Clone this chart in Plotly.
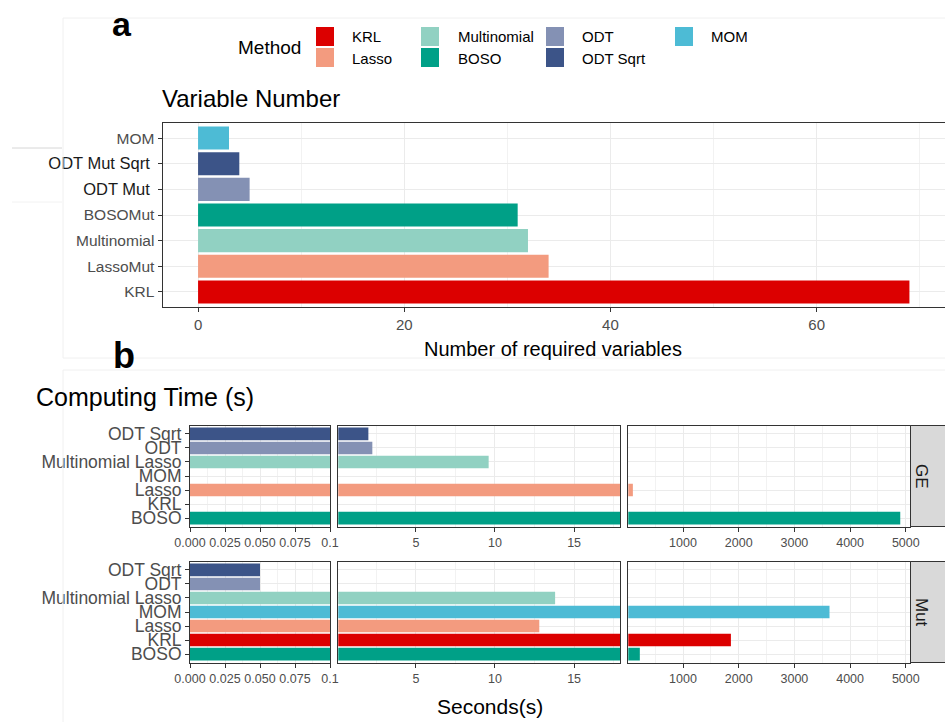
import plotly.graph_objects as go

# ---------------- data ----------------
# Panel a: number of variables each method needs
var_methods = ["KRL", "LassoMut", "Multinomial", "BOSOMut", "ODT Mut", "ODT Mut Sqrt", "MOM"]
var_groups = ["KRL", "Lasso", "Multinomial", "BOSO", "ODT", "ODT Sqrt", "MOM"]
required_vars = [69, 34, 32, 31, 5, 4, 3]

# Panel b: computing time (seconds) per method, for the GE and Mut datasets
time_methods = ["BOSO", "KRL", "Lasso", "MOM", "Multinomial Lasso", "ODT", "ODT Sqrt"]
time_groups = ["BOSO", "KRL", "Lasso", "MOM", "Multinomial", "ODT", "ODT Sqrt"]
time_ge = [4900, None, 100, None, 9.6, 2.25, 2.0]
time_mut = [225, 1860, 12.8, 3630, 13.8, 0.05, 0.05]
datasets = ["GE", "Mut"]

# Colour of each method family
palette = {
    "KRL": "#DC0000",
    "Lasso": "#F39B7F",
    "Multinomial": "#91D1C2",
    "BOSO": "#00A087",
    "ODT": "#8491B4",
    "ODT Sqrt": "#3C5488",
    "MOM": "#4DBBD5",
}
legend_columns = [["KRL", "Lasso"], ["Multinomial", "BOSO"], ["ODT", "ODT Sqrt"], ["MOM"]]

# ---------------- geometry helpers (pixels -> paper) ----------------
W, H = 945, 722
FONT = "Liberation Sans, Arial, sans-serif"
TICK_GREY = "#4D4D4D"
GRID = "#EBEBEB"
FRAME = "#333333"


def xd(a, b):
    return [a / W, b / W]


def yd(top, bottom):
    return [1 - bottom / H, 1 - top / H]


def px(x):
    return x / W


def py(y):
    return 1 - y / H


fig = go.Figure()

# ---------------- panel a ----------------
fig.add_trace(go.Bar(
    x=required_vars, y=var_methods, orientation="h", width=0.9,
    marker=dict(color=[palette[g] for g in var_groups], line=dict(width=0)),
    xaxis="x", yaxis="y", showlegend=False,
))

dark_labels = {"ODT Mut Sqrt", "ODT Mut"}
var_ticktext = [
    f'<span style="color:#1A1A1A;font-size:16.5px">{m}\u00a0</span>' if m in dark_labels else m
    for m in var_methods
]

axis_common = dict(
    automargin=False,
    showline=True, linecolor=FRAME, linewidth=1,
    ticks="outside", ticklen=4, tickcolor=FRAME, tickwidth=1,
    gridcolor=GRID, gridwidth=1, zeroline=False,
    tickfont=dict(family=FONT, color=TICK_GREY),
)

layout = dict(
    width=W, height=H, margin=dict(l=0, r=0, t=0, b=0, pad=0),
    paper_bgcolor="white", plot_bgcolor="white",
    showlegend=False, barmode="overlay",
    font=dict(family=FONT, color="#000000"),
)

layout["xaxis"] = dict(
    axis_common, domain=xd(162.5, 945), anchor="y", mirror=True,
    range=[-3.45, 72.45], tickmode="array", tickvals=[0, 20, 40, 60],
    tickfont=dict(family=FONT, color=TICK_GREY, size=15),
    minor=dict(tickvals=[10, 30, 50, 70], showgrid=True, gridcolor="#F2F2F2", gridwidth=1),
)
layout["yaxis"] = dict(
    axis_common, domain=yd(122.7, 307.3), anchor="x",
    type="category", categoryorder="array", categoryarray=var_methods,
    range=[-0.6, 6.6], tickmode="array", tickvals=var_methods, ticktext=var_ticktext,
    tickfont=dict(family=FONT, color=TICK_GREY, size=15.5),
)

# ---------------- panel b (two rows x three broken-axis columns) ----------------
col_px = [(190, 330), (338.3, 620), (628.3, 910)]
row_px = [(425.5, 526.5), (561.5, 662.5)]
col_ranges = [[0, 0.1], [0.1, 17.9], [18, 5075]]
col_major = [[0, 0.025, 0.05, 0.075, 0.1], [5, 10, 15], [1000, 2000, 3000, 4000, 5000]]
col_major_text = [["0.000", "0.025", "0.050", "0.075", "0.1"], ["5", "10", "15"],
                  ["1000", "2000", "3000", "4000", "5000"]]
col_minor = [[0.0125, 0.0375, 0.0625, 0.0875], [2.5, 7.5, 12.5, 17.5],
             [500, 1500, 2500, 3500, 4500]]

time_colors = [palette[g] for g in time_groups]
series = [time_ge, time_mut]

for r in range(2):
    for c in range(3):
        idx = 2 + r * 3 + c
        xname, yname = f"x{idx}", f"y{idx}"
        fig.add_trace(go.Bar(
            x=series[r], y=time_methods, orientation="h", width=0.9,
            marker=dict(color=time_colors, line=dict(width=0)),
            xaxis=xname, yaxis=yname, showlegend=False,
        ))
        layout[f"xaxis{idx}"] = dict(
            axis_common, domain=xd(*col_px[c]), anchor=yname, mirror=True,
            range=col_ranges[c], tickmode="array",
            tickvals=col_major[c], ticktext=col_major_text[c],
            tickfont=dict(family=FONT, color=TICK_GREY, size=12.5),
            minor=dict(tickvals=col_minor[c], showgrid=True, gridcolor="#F2F2F2", gridwidth=1),
        )
        ydict = dict(
            axis_common, domain=yd(*row_px[r]), anchor=xname, mirror=True,
            type="category", categoryorder="array", categoryarray=time_methods,
            range=[-0.6, 6.6], tickmode="array", tickvals=time_methods,
            tickfont=dict(family=FONT, color=TICK_GREY, size=17.5),
        )
        if c > 0:
            ydict.update(showticklabels=False, ticks="")
        layout[f"yaxis{idx}"] = ydict

# ---------------- shapes: strips, legend keys, outer frames ----------------
shapes = []
for r, (top, bottom) in enumerate(row_px):
    shapes.append(dict(type="rect", xref="paper", yref="paper",
                       x0=px(910.5), x1=px(960), y0=py(bottom), y1=py(top),
                       fillcolor="#D9D9D9", line=dict(color=FRAME, width=1), layer="above"))

for ci, col in enumerate(legend_columns):
    kx = [316, 421, 546, 675][ci]
    for ri, name in enumerate(col):
        ky = [27, 48][ri]
        shapes.append(dict(type="rect", xref="paper", yref="paper",
                           x0=px(kx), x1=px(kx + 18), y0=py(ky + 19), y1=py(ky),
                           fillcolor=palette[name], line=dict(width=0)))

# light frame lines around the two sections
frame_lines = [
    (63, 18, 945, 18), (63, 18, 63, 358), (63, 358, 945, 358),
    (63, 370, 945, 370), (63, 370, 63, 722),
]
for x0, y0, x1, y1 in frame_lines:
    shapes.append(dict(type="line", xref="paper", yref="paper",
                       x0=px(x0), x1=px(x1), y0=py(y0), y1=py(y1),
                       line=dict(color="#F0F0F0", width=1)))
shapes.append(dict(type="line", xref="paper", yref="paper",
                   x0=px(12), x1=px(62), y0=py(148), y1=py(148),
                   line=dict(color="#D6D6D6", width=1)))
shapes.append(dict(type="line", xref="paper", yref="paper",
                   x0=px(12), x1=px(62), y0=py(202), y1=py(202),
                   line=dict(color="#F2F2F2", width=1)))
layout["shapes"] = shapes

# ---------------- text ----------------
ann = []


def text(t, x, y, size, xanchor="left", color="#000000", bold=False, angle=0):
    ann.append(dict(text=f"<b>{t}</b>" if bold else t, x=px(x), y=py(y),
                    xref="paper", yref="paper", xanchor=xanchor, yanchor="middle",
                    showarrow=False, textangle=angle,
                    font=dict(family=FONT, size=size, color=color)))


text("a", 122, 24, 34, xanchor="center", bold=True)
text("b", 124, 356, 36, xanchor="center", bold=True)
text("Method", 236, 47, 19)
for ci, col in enumerate(legend_columns):
    lx = [350, 456, 580, 709][ci]
    for ri, name in enumerate(col):
        text(name, lx, [37, 58][ri], 15)
text("Variable Number", 160, 98, 24)
text("Number of required variables", 553, 349, 20, xanchor="center")
text("Computing Time (s)", 34, 397, 25)
text("Seconds(s)", 490, 706, 21, xanchor="center")
for r, name in enumerate(datasets):
    top, bottom = row_px[r]
    text(name, 922, (top + bottom) / 2, 17, xanchor="center", color="#1A1A1A", angle=90)
layout["annotations"] = ann

fig.update_layout(**layout)
fig.write_html("out.html")
